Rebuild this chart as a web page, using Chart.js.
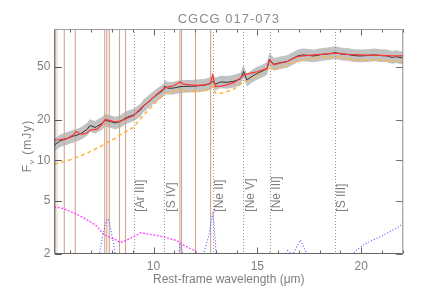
<!DOCTYPE html>
<html><head><meta charset="utf-8">
<script src="https://cdn.jsdelivr.net/npm/chart.js@4"></script>
<style>html,body{margin:0;padding:0;background:#fff}canvas{display:block}</style>
</head><body>
<canvas id="c" width="436" height="291"></canvas>
<script>
// ---------------- data ----------------
const title = 'CGCG 017-073';
const xTitle = 'Rest-frame wavelength (\u03bcm)';
const xTickLabels = [10, 15, 20];
const xMinorTicks = [6,7,8,9,10,11,12,13,14,15,16,17,18,19,20,21,22];
const yTicks = [2, 5, 10, 20, 50];

const wave = [5.22,5.50,5.82,6.14,6.27,6.54,6.80,6.94,7.18,7.27,7.50,7.67,7.91,8.15,8.39,8.55,8.71,9.03,9.36,9.52,9.84,10.00,10.25,10.48,10.53,10.70,10.96,11.29,11.45,11.77,12.09,12.50,12.74,12.85,12.98,13.22,13.54,13.86,14.18,14.34,14.50,14.75,14.99,15.25,15.47,15.58,15.79,16.10,16.44,16.92,17.20,17.72,18.05,18.37,18.77,19.05,19.33,19.65,19.97,20.30,20.62,20.95,21.26,21.50,21.66,22.03];
const observed = [13.0,14.0,14.5,15.2,15.3,16.0,17.0,18.2,17.6,17.9,18.8,19.9,19.5,19.0,19.5,20.2,20.9,21.8,23.6,25.5,28.0,29.5,31.5,33.5,35.7,34.5,34.6,35.5,35.6,35.7,35.9,36.5,37.5,39.0,37.0,38.4,38.2,38.9,40.4,46.0,39.7,42.5,44.5,46.5,48.5,56.7,52.0,53.5,54.6,60.0,61.2,60.1,61.5,62.2,63.6,62.0,61.8,60.5,60.1,60.5,61.2,60.5,60.1,58.5,59.4,57.9];
const model = [14.2,14.3,14.5,15.5,16.4,15.6,16.0,16.8,17.0,17.0,18.5,20.2,19.8,19.4,19.6,20.0,20.5,21.5,24.2,25.5,28.0,29.5,32.0,34.0,34.6,35.3,36.0,38.4,37.0,36.6,36.3,36.6,37.8,43.4,35.5,35.8,36.6,38.0,41.0,43.4,44.0,45.0,45.8,47.2,48.5,56.1,51.7,53.0,54.6,59.4,60.1,61.2,61.8,62.2,63.0,62.5,61.8,61.5,61.2,61.0,61.0,60.8,60.5,60.3,60.2,60.1];
const continuum = [9.4,9.6,9.9,10.3,10.5,10.9,11.3,11.6,12.1,12.3,12.8,13.3,13.9,14.6,15.5,16.0,16.5,17.6,20.3,21.8,24.5,25.9,28.5,30.8,31.3,32.0,32.8,33.5,33.3,32.8,32.6,33.0,34.6,36.0,31.6,31.6,32.6,34.0,37.0,38.4,39.5,41.5,43.4,46.0,48.5,49.0,47.1,49.5,52.1,55.0,56.1,57.9,58.5,59.0,59.4,58.5,57.5,56.5,56.1,56.0,56.1,55.8,55.5,55.2,55.0,54.6];
const fluxErrFrac = 0.115; // relative uncertainty (grey band)

const magWave = [5.22,5.65,6.30,6.80,7.27,7.51,7.70,7.91,8.15,8.39,8.71,9.03,9.39,9.84,10.48,10.80,11.12,11.45,11.77,12.09,12.25,12.45,15.40,15.52,15.58,15.64,15.75,22.03];
const magFlux = [4.5,4.37,3.96,3.6,3.23,2.89,2.75,2.65,2.57,2.43,2.54,2.69,2.88,2.8,2.69,2.6,2.52,2.33,2.2,2.06,2.0,1.85,1.85,1.97,2.06,1.97,1.85,1.5];

const blueWave = [5.22,7.25,7.39,7.55,7.67,7.75,7.83,7.95,8.05,8.15,8.30,11.10,11.22,11.27,11.33,11.40,11.50,12.30,12.41,12.55,12.68,12.80,12.86,12.93,13.02,13.12,16.20,16.35,16.45,16.58,16.70,16.85,16.95,17.08,17.20,17.32,17.42,17.55,19.45,19.57,19.85,20.13,20.60,20.94,21.40,21.75,22.05];
const blueFlux = [1.0,1.0,2.0,2.7,3.3,3.6,3.65,3.0,2.5,2.0,1.0,1.0,2.0,2.35,2.35,2.0,1.0,1.0,2.0,2.4,2.8,3.7,4.0,3.0,2.0,1.0,1.0,2.0,2.12,2.05,1.98,2.2,2.35,2.55,2.3,2.1,2.0,1.0,1.0,2.0,2.18,2.35,2.55,2.69,2.95,3.15,3.4];

const pahLines = [5.70,6.23,7.65,7.75,7.87,8.36,8.65,11.27,11.35,12.02,12.75];
const gasLines = [9.04,10.52,12.84,14.33,15.59,18.72];
const gasLabels = ['[Ar III]','[S IV]','[Ne II]','[Ne V]','[Ne III]','[S III]'];
const edgeBand = [5.22,5.40];

// ---------------- chart ----------------
const FONT = '"Liberation Sans", Arial, sans-serif';
const TXT = '#7e7e7e';
const pts = (xs, ys) => xs.map((v, i) => ({x: v, y: ys[i]}));

const decor = {
  id: 'decor',
  beforeDatasetsDraw(chart) {
    const {ctx, chartArea: a, scales: {x}} = chart;
    ctx.save();
    ctx.fillStyle = 'rgba(238,222,214,0.8)';
    const x0 = x.getPixelForValue(edgeBand[0]), x1 = x.getPixelForValue(edgeBand[1]);
    ctx.fillRect(x0, a.top, x1 - x0, a.bottom - a.top);
    ctx.restore();
  },
  afterDatasetDraw(chart, args) {
    if (args.index !== 5) return;
    const {ctx, chartArea: a, scales: {x}} = chart;
    ctx.save();
    ctx.beginPath(); ctx.rect(a.left, a.top, a.right - a.left, a.bottom - a.top); ctx.clip();
    ctx.strokeStyle = 'rgb(206,166,146)'; ctx.lineWidth = 1.1;
    pahLines.forEach(w => {
      const p = x.getPixelForValue(w);
      ctx.beginPath(); ctx.moveTo(p, a.top); ctx.lineTo(p, a.bottom); ctx.stroke();
    });
    ctx.strokeStyle = '#9a9a9a'; ctx.lineWidth = 1; ctx.setLineDash([1, 2]);
    gasLines.forEach(w => {
      const p = Math.round(x.getPixelForValue(w)) + 0.5;
      ctx.beginPath(); ctx.moveTo(p, a.top); ctx.lineTo(p, a.bottom); ctx.stroke();
    });
    ctx.restore();
  },
  afterDatasetsDraw(chart) {
    const {ctx, chartArea: a, scales: {x, y}} = chart;
    ctx.save();
    // line labels
    ctx.fillStyle = TXT; ctx.font = '12px ' + FONT;
    ctx.textAlign = 'left'; ctx.textBaseline = 'middle';
    gasLines.forEach((w, i) => {
      const p = x.getPixelForValue(w);
      ctx.save(); ctx.translate(p + 7.5, y.getPixelForValue(4.14)); ctx.rotate(-Math.PI / 2);
      ctx.fillText(gasLabels[i], 0, 0); ctx.restore();
    });
    // frame
    ctx.lineWidth = 1;
    const L = a.left + 0.5, R = a.right - 0.5, T = a.top + 0.5, B = a.bottom - 0.5;
    ctx.strokeStyle = '#9e9e9e'; ctx.beginPath(); ctx.moveTo(L, T); ctx.lineTo(R, T); ctx.stroke();
    ctx.strokeStyle = '#8a8a8a'; ctx.beginPath(); ctx.moveTo(R, T); ctx.lineTo(R, B); ctx.stroke();
    ctx.strokeStyle = '#666'; ctx.beginPath(); ctx.moveTo(L, B); ctx.lineTo(R, B); ctx.stroke();
    ctx.strokeStyle = '#444'; ctx.beginPath(); ctx.moveTo(L, T); ctx.lineTo(L, B); ctx.stroke();
    // x ticks (inward, top and bottom)
    ctx.strokeStyle = '#666';
    xMinorTicks.forEach(v => {
      const p = Math.round(x.getPixelForValue(v)) + 0.5;
      const len = v % 5 === 0 ? 6 : 3;
      ctx.beginPath(); ctx.moveTo(p, B); ctx.lineTo(p, B - len); ctx.stroke();
      ctx.beginPath(); ctx.moveTo(p, T); ctx.lineTo(p, T + len); ctx.stroke();
    });
    // y ticks (inward, left and right)
    yTicks.forEach(v => {
      const p = Math.round(y.getPixelForValue(v)) + 0.5;
      ctx.strokeStyle = '#555';
      ctx.beginPath(); ctx.moveTo(L, p); ctx.lineTo(L + 7, p); ctx.stroke();
      ctx.strokeStyle = '#777';
      ctx.beginPath(); ctx.moveTo(R, p); ctx.lineTo(R - 7, p); ctx.stroke();
    });
    // titles
    ctx.fillStyle = '#8c8c8c';
    ctx.textAlign = 'center'; ctx.textBaseline = 'middle';
    ctx.font = '13px ' + FONT; ctx.letterSpacing = '1px';
    ctx.fillText(title, (a.left + a.right) / 2, 19);
    ctx.letterSpacing = '0px';
    ctx.font = '12px ' + FONT; ctx.fillStyle = TXT;
    ctx.fillText(xTitle, (a.left + a.right) / 2, 280);
    // y title  F_nu (mJy)
    ctx.save(); ctx.translate(27.5, 146); ctx.rotate(-Math.PI / 2);
    ctx.textAlign = 'left'; ctx.letterSpacing = '1px';
    ctx.font = '12px ' + FONT; const wF = ctx.measureText('F').width;
    ctx.font = '8px ' + FONT; const wN = ctx.measureText('\u03bd').width;
    ctx.font = '12px ' + FONT; const wR = ctx.measureText(' (mJy)').width;
    let sx = -(wF + wN + wR) / 2;
    ctx.fillText('F', sx, 0); sx += wF;
    ctx.font = '8px ' + FONT; ctx.fillText('\u03bd', sx, 4); sx += wN;
    ctx.font = '12px ' + FONT; ctx.fillText(' (mJy)', sx, 0);
    ctx.restore();
    ctx.restore();
  }
};

new Chart(document.getElementById('c'), {
  type: 'line',
  data: {
    datasets: [
      {data: pts(wave, model), borderColor: '#ff3535', borderWidth: 1.2, order: 1},
      {data: pts(wave, observed), borderColor: '#333', borderWidth: 1, order: 2},
      {data: pts(wave, continuum), borderColor: '#ffb43a', borderWidth: 1.5, borderDash: [4, 3], order: 3},
      {data: pts(magWave, magFlux), borderColor: '#ff45ff', borderWidth: 1.3, borderDash: [2, 1.5], order: 4},
      {data: pts(blueWave, blueFlux), borderColor: '#5555ff', borderWidth: 1.1, borderDash: [1, 2], order: 5},
      {data: pts(wave, observed.map(v => v * (1 + fluxErrFrac))), borderWidth: 0, borderColor: 'rgba(0,0,0,0)', backgroundColor: '#c2c2c2', fill: '+1', order: 6},
      {data: pts(wave, observed.map(v => v / (1 + fluxErrFrac))), borderWidth: 0, borderColor: 'rgba(0,0,0,0)', fill: false, order: 7}
    ]
  },
  options: {
    responsive: false, animation: false, devicePixelRatio: 1,
    layout: {padding: {left: 0, right: 32.7, top: 29, bottom: 0}},
    plugins: {legend: {display: false}, title: {display: false}, tooltip: {enabled: false}},
    elements: {point: {radius: 0}, line: {tension: 0}},
    scales: {
      x: {
        type: 'linear', min: 5.22, max: 22.03,
        grid: {display: false, drawTicks: false}, border: {display: false},
        afterBuildTicks: s => { s.ticks = xTickLabels.map(v => ({value: v})); },
        afterFit: s => { s.height = 37; },
        ticks: {padding: 5, font: {family: FONT, size: 12}, color: TXT, maxRotation: 0, autoSkip: false, callback: v => String(v)}
      },
      y: {
        type: 'logarithmic', min: 2, max: 95.5,
        grid: {display: false, drawTicks: false}, border: {display: false},
        afterBuildTicks: s => { s.ticks = yTicks.map(v => ({value: v})); },
        afterFit: s => { s.width = 54.3; },
        ticks: {padding: 4, font: {family: FONT, size: 12}, color: TXT, autoSkip: false, callback: v => String(v)}
      }
    }
  },
  plugins: [decor]
});
</script>
</body></html>
